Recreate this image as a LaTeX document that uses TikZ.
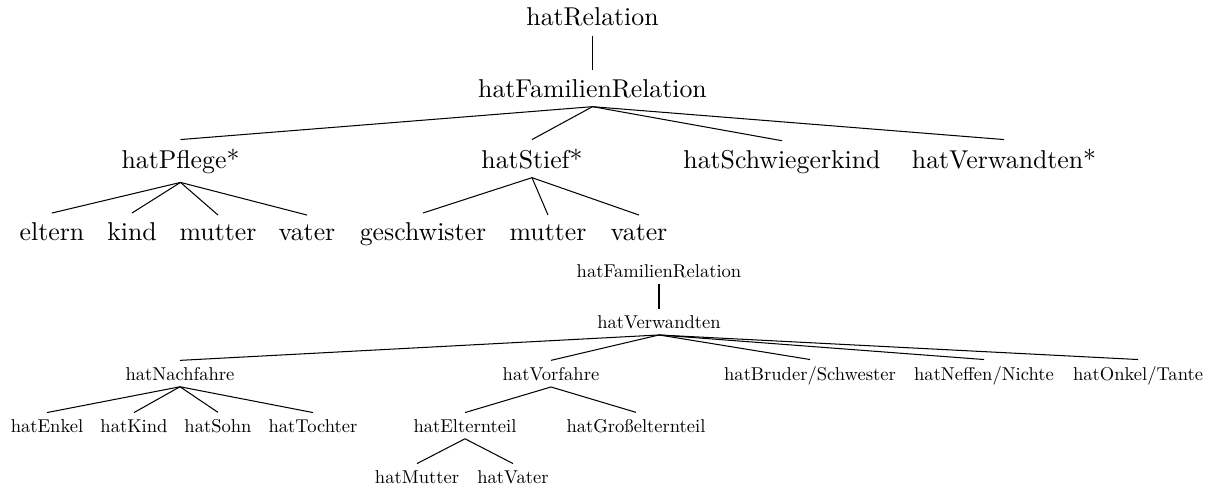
\documentclass[tikz,border=0pt]{standalone}
\begin{document}
\begin{tikzpicture}[x=0.3878pt,y=-0.3878pt,
  big/.style={font=\fontsize{10}{12}\selectfont,inner sep=3.33pt,anchor=base},
  small/.style={font=\fontsize{10}{12}\selectfont,scale=0.72,transform shape,
                inner sep=3.33pt,anchor=base},
  edge/.style={draw=black,line width=0.4pt}]
\useasboundingbox (0,0) rectangle (1222,488);

% upper tree: family relations with Pflege/Stief groups
\node[big] (rel) at (592.5,26) {hatRelation};
\node[big] (fam) at (592.5,97) {hatFamilienRelation};
\node[big] (pfl) at (180.5,168) {hatPflege*};
\node[big] (sti) at (532,168) {hatStief*};
\node[big] (swk) at (782,168) {hatSchwiegerkind};
\node[big] (vwa) at (1004,168) {hatVerwandten*};
\node[big] (pel) at (52,240) {eltern};
\node[big] (pki) at (132,240) {kind};
\node[big] (pmu) at (218,240) {mutter};
\node[big] (pva) at (307,240) {vater};
\node[big] (sge) at (423,240) {geschwister};
\node[big] (smu) at (548,240) {mutter};
\node[big] (sva) at (639,240) {vater};

\foreach \p/\c in {rel/fam, fam/pfl, fam/sti, fam/swk, fam/vwa,
                   pfl/pel, pfl/pki, pfl/pmu, pfl/pva,
                   sti/sge, sti/smu, sti/sva}
  \draw[edge] (\p.south) -- (\c.north);

% lower tree: kinship relations
\node[small] (bfam) at (659,277) {hatFamilienRelation};
\node[small] (bvwa) at (659,328) {hatVerwandten};
\node[small] (nach) at (180,380) {hatNachfahre};
\node[small] (vorf) at (551,380) {hatVorfahre};
\node[small] (brud) at (810,380) {hatBruder/Schwester};
\node[small] (neff) at (984,380) {hatNeffen/Nichte};
\node[small] (onkl) at (1138,380) {hatOnkel/Tante};
\node[small] (enk) at (47,432) {hatEnkel};
\node[small] (kin) at (134,432) {hatKind};
\node[small] (soh) at (218,432) {hatSohn};
\node[small] (toc) at (313,432) {hatTochter};
\node[small] (elt) at (465,432) {hatElternteil};
\node[small] (gro) at (636,432) {hatGroßelternteil};
\node[small] (mut) at (417,483) {hatMutter};
\node[small] (vat) at (513,483) {hatVater};

\foreach \p/\c in {bfam/bvwa, bvwa/nach, bvwa/vorf, bvwa/brud, bvwa/neff, bvwa/onkl,
                   nach/enk, nach/kin, nach/soh, nach/toc,
                   vorf/elt, vorf/gro, elt/mut, elt/vat}
  \draw[edge] (\p.south) -- (\c.north);
\end{tikzpicture}
\end{document}
